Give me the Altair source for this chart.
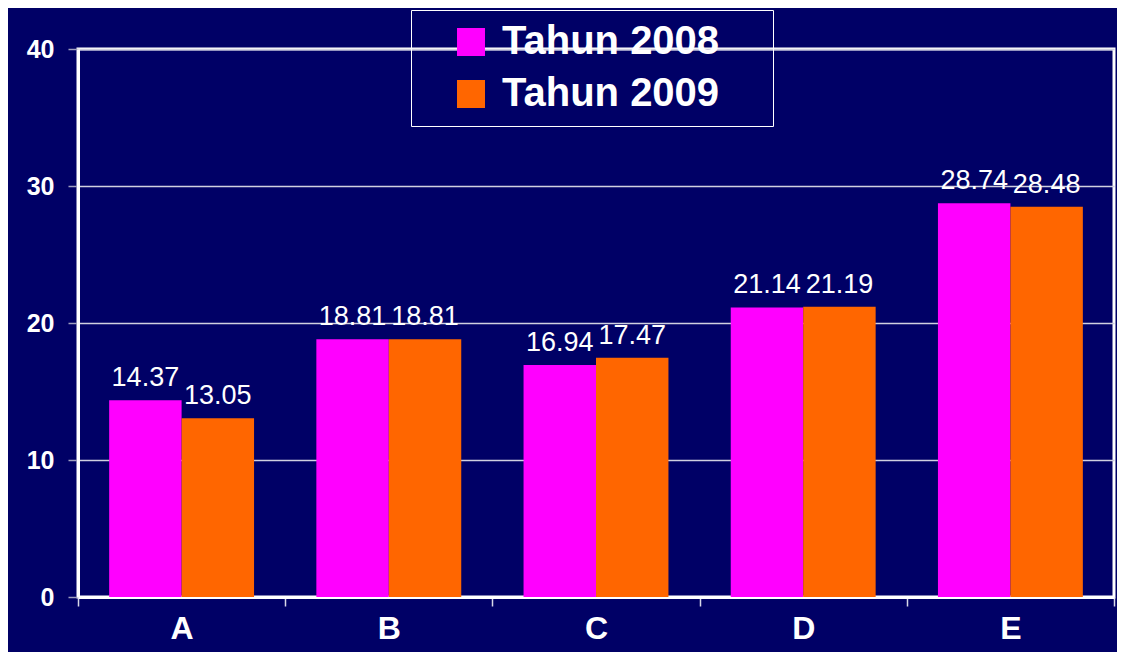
import altair as alt
import pandas as pd

categories = ["A", "B", "C", "D", "E"]
series = ["Tahun 2008", "Tahun 2009"]
values_2008 = [14.37, 18.81, 16.94, 21.14, 28.74]
values_2009 = [13.05, 18.81, 17.47, 21.19, 28.48]
colors = ["#FF00FF", "#FF6600"]

rows = []
for c, a, b in zip(categories, values_2008, values_2009):
    rows.append({"cat": c, "series": series[0], "value": a, "label": f"{a:.2f}"})
    rows.append({"cat": c, "series": series[1], "value": b, "label": f"{b:.2f}"})
df = pd.DataFrame(rows)

FONT = "Liberation Sans"

x = alt.X("cat:N", sort=categories, title=None,
          scale=alt.Scale(paddingInner=0, paddingOuter=0),
          axis=alt.Axis(labelAngle=0, labelFont=FONT, labelFontSize=32, labelFontWeight="bold",
                        labelColor="white", labelPadding=7, labelBaseline="top",
                        domainColor="white", domainWidth=3,
                        tickColor="#d8d8e8", tickSize=9, tickWidth=1.5, tickBand="extent",
                        grid=False))
xo = alt.XOffset("series:N", sort=series, scale=alt.Scale(paddingInner=0, paddingOuter=0.43))
y = alt.Y("value:Q", title=None,
          scale=alt.Scale(domain=[0, 40], nice=False),
          axis=alt.Axis(values=[0, 10, 20, 30, 40], labelFont=FONT, labelFontSize=25,
                        labelFontWeight="bold", labelColor="white", labelPadding=14,
                        domainColor="white", domainWidth=3,
                        tickColor="#a0a0c0", tickSize=10, tickWidth=1.5,
                        grid=True, gridColor="#d0d0e0", gridWidth=1.5))

bars = alt.Chart(df).mark_bar(opacity=1, strokeWidth=0).encode(
    x=x, xOffset=xo, y=y,
    color=alt.Color("series:N", sort=series, scale=alt.Scale(domain=series, range=colors),
                    legend=alt.Legend(title="\u00a0", titleOrient="right", titleFontSize=20,
                                      titlePadding=42, titleColor="#000066",
                                      orient="none", legendX=333, legendY=-39,
                                      symbolType="square", symbolSize=784, symbolStrokeWidth=0,
                                      symbolOpacity=1, symbolOffset=28,
                                      labelFont=FONT, labelFontSize=40, labelFontWeight="bold",
                                      labelColor="white", labelOffset=11, rowPadding=12,
                                      padding=12, strokeColor="white",
                                      labelLimit=450)),
)

labels = alt.Chart(df).mark_text(baseline="bottom", dy=-8, font=FONT, fontSize=27,
                                 color="white").encode(
    x=alt.X("cat:N", sort=categories), xOffset=alt.XOffset("series:N", sort=series),
    y=alt.Y("value:Q"), text="label:N",
)

chart = alt.layer(bars, labels).properties(
    width=1036, height=548,
    padding={"left": 70, "top": 41, "right": 3, "bottom": 55},
    autosize=alt.AutoSizeParams(type="none"),
    background="#000066",
).configure_view(stroke="white", strokeWidth=3)

chart.save("out.html", embed_options={"renderer": "svg", "actions": False})
